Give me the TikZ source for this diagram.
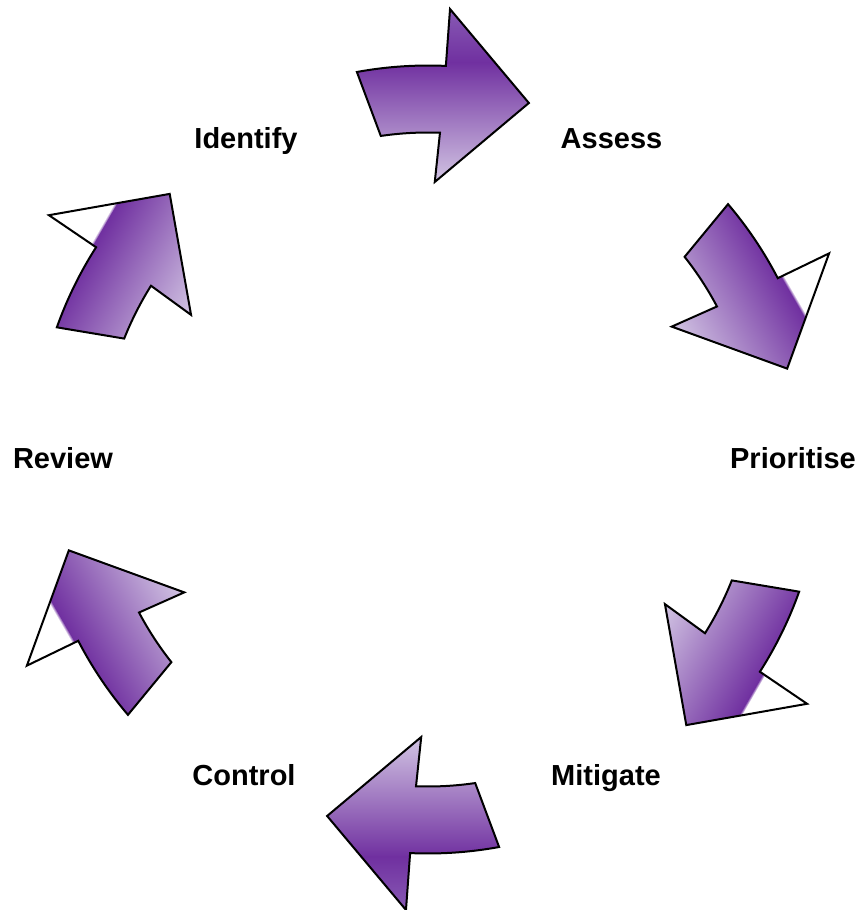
\documentclass[tikz,border=0pt]{standalone}
\usepackage{fontspec}
\setmainfont{Liberation Sans}
\definecolor{darkp}{RGB}{112,48,160}
\definecolor{medp}{RGB}{140,98,184}
\definecolor{palep}{RGB}{220,212,234}
\def\arrowpath{(100.4:394) arc[start angle=100.4,end angle=87.4,radius=394] -- (87.2:451) -- (74.2:370.5) -- (88.6:277.6) -- (87.9:327) arc[start angle=87.9,end angle=98.3,radius=327] -- cycle}
\newcommand\riskarrow[2]{%
  \begin{scope}[transform canvas={rotate=#1}]
    \begin{scope}
      \clip \arrowpath;
      \shade[bottom color=palep, top color=darkp] (-130,265) rectangle (130,397.5);
      \ifnum#2=1
        \shade[bottom color=darkp, top color=medp] (-130,397) rectangle (130,460);
      \else
        \shade[bottom color=darkp, top color=white] (-130,397) rectangle (130,400);
      \fi
    \end{scope}
    \draw[arrowline] \arrowpath;
  \end{scope}}
\begin{document}
\begin{tikzpicture}[x=1pt,y=1pt,
  lbl/.style={anchor=base, font=\fontsize{29}{34}\selectfont\bfseries, inner sep=0pt},
  arrowline/.style={draw=black, line width=2pt, line join=miter}]
\useasboundingbox (-428,-450.5) rectangle (433,459.5);
\fill[white] (-428,-450.5) rectangle (433,459.5);
\riskarrow{0}{1}
\riskarrow{-60}{0}
\riskarrow{-120}{0}
\riskarrow{180}{1}
\riskarrow{120}{0}
\riskarrow{60}{0}
\node[lbl] (identify) at (-182,311) {Identify};
\node[lbl] (assess) at (183.5,311) {Assess};
\node[lbl] (prioritise) at (365,-9) {Prioritise};
\node[lbl] (review) at (-365,-9) {Review};
\node[lbl] (control) at (-184,-326) {Control};
\node[lbl] (mitigate) at (178,-326) {Mitigate};
\end{tikzpicture}
\end{document}
